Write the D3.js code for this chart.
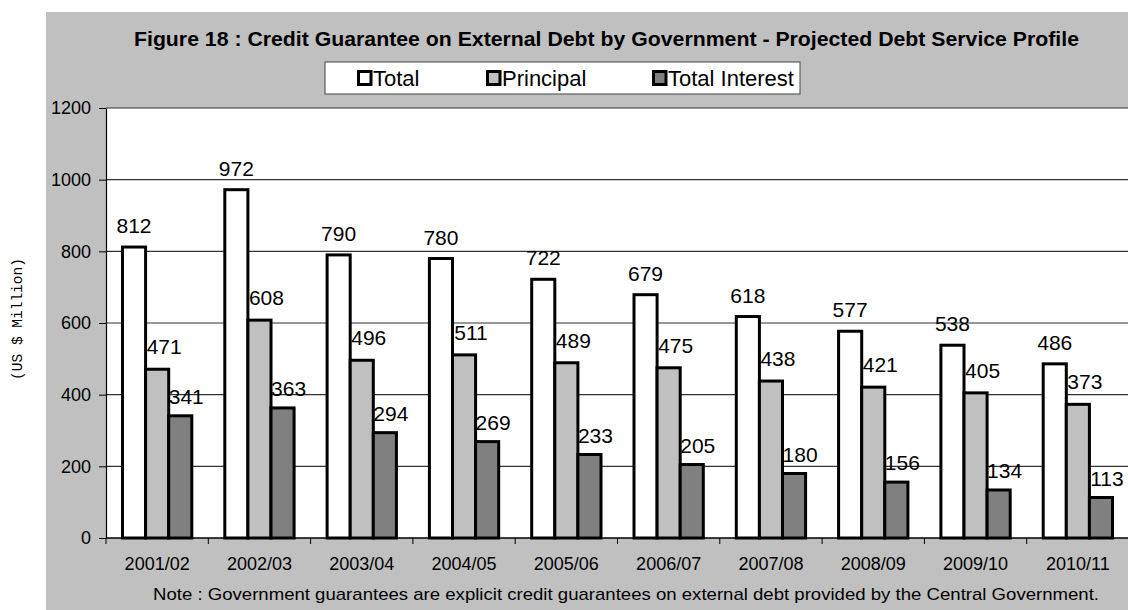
<!DOCTYPE html>
<html>
<head>
<meta charset="utf-8">
<script src="https://cdn.jsdelivr.net/npm/d3@7"></script>
<style>
  body { margin: 0; background: #fff; }
  svg text { font-family: "Liberation Sans", Arial, sans-serif; fill: #000; }
</style>
</head>
<body>
<script>
const w = 1128;
const h = 610;

// chart data
const categories = ["2001/02", "2002/03", "2003/04", "2004/05", "2005/06",
                    "2006/07", "2007/08", "2008/09", "2009/10", "2010/11"];
const total     = [812, 972, 790, 780, 722, 679, 618, 577, 538, 486];
const principal = [471, 608, 496, 511, 489, 475, 438, 421, 405, 373];
const interest  = [341, 363, 294, 269, 233, 205, 180, 156, 134, 113];
const seriesNames = ["Total", "Principal", "Total Interest"];
const yTicks = [0, 200, 400, 600, 800, 1000, 1200];

const colors = ["#ffffff", "#c0c0c0", "#808080"];
// label offsets per series (dx, gap above bar)
const labelDx = [0, 7, 6];
const labelGap = [14, 15, 12];

const plot = { left: 106, right: 1129, top: 108, bottom: 538 };

const svg = d3.select("body")
    .append("svg")
    .attr("width", w)
    .attr("height", h);

// gray chart area
svg.append("rect")
    .attr("x", 46).attr("y", 12)
    .attr("width", w - 46).attr("height", h - 12)
    .attr("fill", "#c0c0c0");

// plot area
svg.append("rect")
    .attr("x", plot.left).attr("y", plot.top)
    .attr("width", plot.right - plot.left).attr("height", plot.bottom - plot.top)
    .attr("fill", "#ffffff");

const x0 = d3.scaleBand()
    .domain(categories)
    .range([plot.left, plot.right])
    .padding(0);

const bw = x0.bandwidth();
const x1 = d3.scaleBand()
    .domain(seriesNames)
    .range([16.5, bw - 16.5])
    .padding(0);

const y = d3.scaleLinear()
    .domain([0, 1200])
    .range([plot.bottom, plot.top]);

// gridlines
svg.append("g")
    .selectAll("line")
    .data(yTicks.filter(d => d > 0))
    .join("line")
    .attr("x1", plot.left).attr("x2", plot.right)
    .attr("y1", d => y(d)).attr("y2", d => y(d))
    .attr("stroke", "#333")
    .attr("stroke-width", 1.2);

// y axis
const yAxis = d3.axisLeft(y)
    .tickValues(yTicks)
    .tickFormat(d3.format("d"))
    .tickSize(7)
    .tickSizeOuter(0)
    .tickPadding(8);

const yg = svg.append("g")
    .attr("transform", "translate(" + plot.left + ",0)")
    .call(yAxis);
yg.select(".domain").attr("stroke", "#000").attr("stroke-width", 1.2);
yg.selectAll(".tick line").attr("stroke", "#000");
yg.selectAll(".tick text")
    .style("font-size", "18px")
    .style("font-family", "Liberation Sans, Arial, sans-serif")
    .attr("fill", "#000");

// bars
const seriesData = [total, principal, interest];
const groups = svg.append("g")
    .selectAll("g")
    .data(categories)
    .join("g")
    .attr("transform", d => "translate(" + x0(d) + ",0)");

groups.selectAll("rect")
    .data((d, i) => seriesNames.map((s, k) => ({ s: s, k: k, v: seriesData[k][i] })))
    .join("rect")
    .attr("x", d => x1(d.s))
    .attr("y", d => y(d.v))
    .attr("width", x1.bandwidth())
    .attr("height", d => y(0) - y(d.v))
    .attr("fill", d => colors[d.k])
    .attr("stroke", "#000")
    .attr("stroke-width", 3);

groups.selectAll("text")
    .data((d, i) => seriesNames.map((s, k) => ({ s: s, k: k, v: seriesData[k][i] })))
    .join("text")
    .attr("x", d => x1(d.s) + x1.bandwidth() / 2 + labelDx[d.k])
    .attr("y", d => y(d.v) - labelGap[d.k])
    .attr("text-anchor", "middle")
    .style("font-size", "21px")
    .text(d => d.v);

// x axis
svg.append("line")
    .attr("x1", plot.left).attr("x2", plot.right)
    .attr("y1", plot.bottom).attr("y2", plot.bottom)
    .attr("stroke", "#000")
    .attr("stroke-width", 1.5);

svg.append("g")
    .selectAll("line")
    .data(d3.range(categories.length + 1))
    .join("line")
    .attr("x1", i => plot.left + i * x0.step())
    .attr("x2", i => plot.left + i * x0.step())
    .attr("y1", plot.bottom).attr("y2", plot.bottom + 6)
    .attr("stroke", "#000");

const xAxis = d3.axisBottom(x0)
    .tickSize(0)
    .tickPadding(19);

const xg = svg.append("g")
    .attr("transform", "translate(0," + plot.bottom + ")")
    .call(xAxis);
xg.select(".domain").remove();
xg.selectAll(".tick text")
    .style("font-size", "18px")
    .style("font-family", "Liberation Sans, Arial, sans-serif")
    .attr("fill", "#000");

// title
svg.append("text")
    .attr("x", 606.5)
    .attr("y", 46)
    .attr("text-anchor", "middle")
    .attr("textLength", 945)
    .attr("lengthAdjust", "spacingAndGlyphs")
    .style("font-size", "20px")
    .style("font-weight", "bold")
    .text("Figure 18 : Credit Guarantee on External Debt by Government - Projected Debt Service Profile");

// legend
const legend = svg.append("g");
legend.append("rect")
    .attr("x", 325).attr("y", 62)
    .attr("width", 475).attr("height", 32)
    .attr("fill", "#fff")
    .attr("stroke", "#444")
    .attr("stroke-width", 1);

const legendX = [357, 486, 652];
const li = legend.selectAll("g")
    .data(seriesNames)
    .join("g")
    .attr("transform", (d, i) => "translate(" + legendX[i] + ",0)");
li.append("rect")
    .attr("x", 1.5).attr("y", 71.5)
    .attr("width", 12.5).attr("height", 13)
    .attr("fill", (d, i) => colors[i])
    .attr("stroke", "#000")
    .attr("stroke-width", 3);
li.append("text")
    .attr("x", 16)
    .attr("y", 86)
    .style("font-size", "22px")
    .text(d => d);

// y label
svg.append("text")
    .attr("transform", "translate(18,319) rotate(-90)")
    .attr("text-anchor", "middle")
    .attr("dominant-baseline", "central")
    .style("font-family", "Liberation Mono, Courier New, monospace")
    .style("font-size", "14.5px")
    .attr("fill", "#333")
    .text("(US $ Million)");

// note
svg.append("text")
    .attr("x", 153)
    .attr("y", 600)
    .attr("textLength", 946)
    .attr("lengthAdjust", "spacingAndGlyphs")
    .style("font-size", "17px")
    .text("Note : Government guarantees are explicit credit guarantees on external debt provided by the Central Government.");
</script>
</body>
</html>
